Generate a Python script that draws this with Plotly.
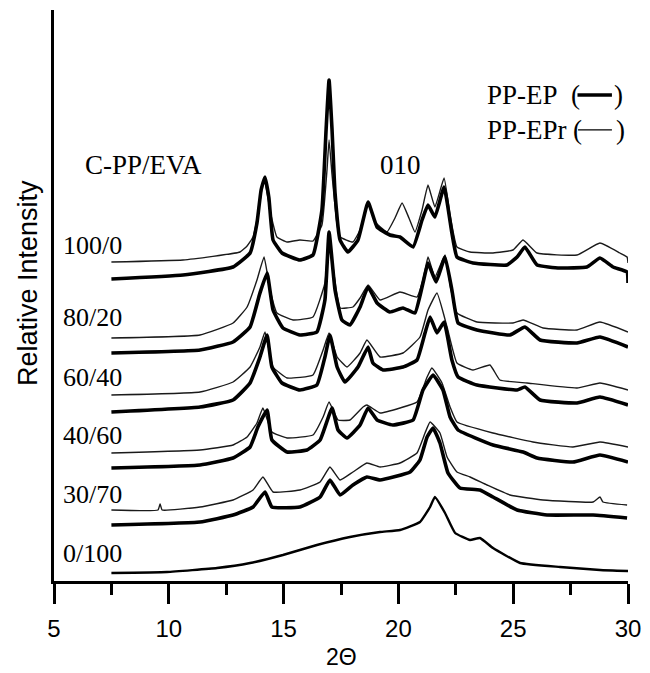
import plotly.graph_objects as go

# 2-theta positions and relative intensities (a.u., offset per sample)
x_100_0_r = [7.5, 10.62, 13.10, 13.41, 13.67, 13.88, 14.15, 14.45, 14.71, 15.15, 15.71, 16.28, 16.67, 16.89, 16.98,
             17.11, 17.33, 17.46, 18.02, 18.33, 18.68, 18.98, 19.50, 19.85, 20.16, 20.46, 20.72, 21.03, 21.29, 21.59,
             21.99, 22.25, 22.55, 23.12, 24.12, 24.99, 25.43, 26.04, 27.78, 28.78, 29.65, 29.96, 30.0]
y_100_0_r = [319, 321, 329, 335, 344, 366, 403, 366, 344, 339, 341, 340, 356, 411, 441,
             406, 356, 344, 339, 351, 378, 359, 349, 363, 378, 363, 349, 371, 396, 374,
             403, 366, 334, 329, 328, 331, 341, 328, 326, 338, 328, 324, 318]

x_100_0 = [7.5, 10.62, 12.80, 13.54, 13.84, 14.02, 14.19, 14.36, 14.54, 14.93, 15.71, 16.28, 16.67, 16.85, 16.98,
           17.11, 17.24, 17.46, 17.80, 18.24, 18.68, 19.07, 19.63, 20.07, 20.64, 21.03, 21.29, 21.59, 21.99, 22.33,
           22.55, 23.25, 24.73, 25.17, 25.51, 26.04, 27.04, 28.21, 28.78, 29.35, 29.96, 30.0]
y_100_0 = [302, 306, 314, 328, 358, 391, 404, 383, 341, 328, 321, 326, 371, 451, 501,
           451, 388, 341, 329, 341, 379, 354, 346, 344, 334, 361, 376, 364, 394, 348,
           324, 318, 316, 324, 334, 316, 313, 314, 323, 314, 309, 298]

x_80_20_r = [7.5, 11.36, 12.80, 13.41, 13.84, 14.15, 14.41, 14.71, 15.41, 16.28, 16.80, 16.98, 17.20, 17.46, 18.02,
             18.33, 18.68, 19.20, 20.07, 20.81, 21.07, 21.29, 21.59, 22.03, 22.29, 22.55, 23.42, 24.99, 25.43, 26.30,
             27.78, 28.78, 30.0]
y_80_20_r = [243, 246, 258, 274, 301, 324, 291, 268, 261, 264, 298, 346, 306, 273, 274,
             283, 296, 281, 289, 284, 301, 324, 304, 326, 291, 268, 259, 258, 261, 253,
             251, 259, 249]

x_80_20 = [7.5, 11.36, 12.80, 13.54, 13.97, 14.28, 14.54, 14.97, 15.71, 16.45, 16.80, 16.98, 17.24, 17.54, 17.89,
           18.33, 18.68, 19.07, 19.63, 20.20, 20.72, 21.07, 21.29, 21.64, 22.03, 22.33, 22.60, 23.42, 24.86, 25.51,
           26.17, 27.78, 28.78, 30.0]
y_80_20 = [228, 231, 239, 254, 288, 308, 271, 253, 246, 249, 281, 349, 291, 261, 256,
           274, 294, 278, 269, 273, 268, 298, 318, 299, 324, 291, 258, 251, 246, 254,
           241, 238, 244, 234]

x_60_40_r = [7.5, 11.36, 12.80, 13.54, 13.97, 14.19, 14.54, 15.15, 16.28, 16.72, 16.98, 17.33, 17.76, 18.33, 18.63,
             19.20, 20.20, 20.94, 21.29, 21.68, 22.12, 22.55, 23.25, 23.99, 24.42, 25.60, 27.78, 28.78, 30.0]
y_60_40_r = [186, 189, 199, 214, 234, 249, 214, 203, 206, 231, 248, 224, 214, 228, 241,
             224, 228, 244, 271, 288, 254, 218, 211, 216, 201, 198, 193, 198, 191]

x_60_40 = [7.5, 11.36, 12.80, 13.54, 13.97, 14.28, 14.49, 14.93, 15.71, 16.45, 16.80, 17.02, 17.33, 17.67, 18.24,
           18.68, 18.89, 19.33, 20.20, 20.81, 21.16, 21.38, 21.68, 21.99, 22.33, 22.60, 23.42, 25.17, 25.51, 26.17,
           27.78, 28.78, 30.0]
y_60_40 = [169, 174, 181, 198, 224, 246, 214, 198, 191, 196, 224, 246, 214, 199, 214,
           234, 218, 211, 214, 221, 248, 264, 248, 259, 221, 204, 196, 191, 194, 181,
           178, 184, 176]

x_40_60_r = [7.5, 11.36, 12.80, 13.41, 13.84, 14.10, 14.49, 15.15, 16.28, 16.72, 16.98, 17.37, 17.89, 18.46, 18.63,
             19.20, 20.07, 20.81, 21.25, 21.46, 21.90, 22.25, 22.55, 24.12, 25.86, 27.60, 28.78, 30.0]
y_40_60_r = [128, 131, 136, 144, 158, 173, 149, 143, 146, 164, 179, 161, 161, 174, 176,
             168, 173, 179, 204, 213, 198, 174, 159, 148, 139, 134, 139, 134]

x_40_60 = [7.5, 11.36, 12.80, 13.54, 13.88, 14.28, 14.49, 15.15, 16.02, 16.59, 17.11, 17.37, 17.76, 18.33, 18.68,
           19.07, 19.76, 20.64, 21.07, 21.51, 21.94, 22.25, 22.60, 24.12, 25.43, 26.04, 27.60, 28.78, 30.0]
y_40_60 = [113, 116, 123, 134, 154, 171, 141, 129, 131, 141, 173, 151, 143, 156, 173,
           161, 156, 161, 191, 206, 191, 164, 151, 136, 129, 123, 119, 126, 119]

x_30_70_r = [7.5, 9.53, 9.62, 9.71, 11.36, 12.80, 13.67, 14.10, 14.54, 15.71, 16.59, 17.02, 17.46, 18.02, 18.63,
             19.20, 20.07, 20.81, 21.16, 21.38, 21.81, 22.12, 22.55, 23.12, 23.86, 24.86, 26.30, 28.48, 28.78, 28.91,
             29.96]
y_30_70_r = [71, 71, 77, 71, 74, 81, 91, 104, 89, 91, 99, 114, 101, 109, 118,
             114, 118, 128, 148, 159, 148, 124, 109, 104, 96, 86, 81, 79, 84, 79,
             76]

x_30_70 = [7.5, 11.36, 12.80, 13.67, 14.19, 14.49, 15.71, 16.59, 17.02, 17.46, 18.02, 18.63, 19.20, 20.51, 20.94,
           21.25, 21.51, 21.81, 22.16, 22.68, 23.55, 24.12, 25.17, 26.47, 28.48, 29.96]
y_30_70 = [56, 59, 66, 74, 89, 74, 74, 84, 101, 86, 96, 104, 101, 109, 121,
           144, 153, 138, 108, 93, 91, 84, 71, 66, 66, 63]

x_0_100 = [7.5, 9.92, 12.10, 13.54, 14.97, 16.45, 17.89, 19.20, 20.07, 20.94, 21.38, 21.59, 22.03, 22.47, 23.12,
           23.55, 24.12, 25.30, 27.04, 28.78, 30.0]
y_0_100 = [8, 9, 13, 18, 26, 36, 44, 49, 51, 59, 74, 84, 68, 48, 41,
           43, 33, 18, 14, 11, 10]

ratios = ["100/0", "80/20", "60/40", "40/60", "30/70", "0/100"]
label_y = [0.587, 0.461, 0.357, 0.254, 0.151, 0.049]

thin = [(x_100_0_r, y_100_0_r), (x_80_20_r, y_80_20_r), (x_60_40_r, y_60_40_r),
        (x_40_60_r, y_40_60_r), (x_30_70_r, y_30_70_r)]
thick = [(x_100_0, y_100_0), (x_80_20, y_80_20), (x_60_40, y_60_40),
         (x_40_60, y_40_60), (x_30_70, y_30_70)]

fig = go.Figure()

for (xs, ys) in thin:
    fig.add_trace(go.Scatter(x=xs, y=ys, mode="lines",
                             line=dict(color="#1a1a1a", width=1.4, shape="spline", smoothing=0.35),
                             showlegend=False, hoverinfo="skip"))
for (xs, ys) in thick:
    fig.add_trace(go.Scatter(x=xs, y=ys, mode="lines",
                             line=dict(color="black", width=3.6, shape="spline", smoothing=0.35),
                             showlegend=False, hoverinfo="skip"))
fig.add_trace(go.Scatter(x=x_0_100, y=y_0_100, mode="lines",
                         line=dict(color="black", width=2.4, shape="spline", smoothing=0.35),
                         showlegend=False, hoverinfo="skip"))

serif = dict(family="Liberation Serif, Times New Roman, serif", size=26, color="black")
serif_big = dict(family="Liberation Serif, Times New Roman, serif", size=27, color="black")
sans = "Liberation Sans, Arial, sans-serif"

annotations = []
for name, yy in zip(ratios, label_y):
    annotations.append(dict(text=name, xref="paper", yref="paper", x=0.012, y=yy,
                            xanchor="left", yanchor="middle", showarrow=False, font=serif))
annotations += [
    dict(text="C-PP/EVA", xref="paper", yref="paper", x=0.050, y=0.729, xanchor="left",
         yanchor="middle", showarrow=False, font=serif_big),
    dict(text="010", xref="paper", yref="paper", x=0.564, y=0.729, xanchor="left",
         yanchor="middle", showarrow=False, font=serif_big),
    dict(text="PP-EP", xref="paper", yref="paper", x=0.751, y=0.851, xanchor="left",
         yanchor="middle", showarrow=False, font=serif_big),
    dict(text="PP-EPr", xref="paper", yref="paper", x=0.751, y=0.790, xanchor="left",
         yanchor="middle", showarrow=False, font=serif_big),
    dict(text="(", xref="paper", yref="paper", x=0.898, y=0.851, xanchor="left",
         yanchor="middle", showarrow=False, font=serif_big),
    dict(text="(", xref="paper", yref="paper", x=0.900, y=0.790, xanchor="left",
         yanchor="middle", showarrow=False, font=serif_big),
    dict(text=")", xref="paper", yref="paper", x=0.972, y=0.851, xanchor="left",
         yanchor="middle", showarrow=False, font=serif_big),
    dict(text=")", xref="paper", yref="paper", x=0.975, y=0.790, xanchor="left",
         yanchor="middle", showarrow=False, font=serif_big),
    dict(text="Relative Intensity", xref="paper", yref="paper", x=-0.045, y=0.522,
         xanchor="center", yanchor="middle", textangle=-90, showarrow=False,
         font=dict(family=sans, size=27, color="black")),
    dict(text="2Θ", xref="paper", yref="paper", x=0.5, y=-0.133, xanchor="center",
         yanchor="middle", showarrow=False, font=dict(family=sans, size=23, color="black")),
]

shapes = [
    dict(type="line", xref="paper", yref="paper", x0=0.912, x1=0.972, y0=0.851, y1=0.851,
         line=dict(color="black", width=3.5)),
    dict(type="line", xref="paper", yref="paper", x0=0.913, x1=0.972, y0=0.790, y1=0.790,
         line=dict(color="black", width=1.2)),
]

# page body has an 8px margin, so the figure is sized/offset to land on the reference pixels
fig.update_layout(
    width=642, height=665,
    margin=dict(l=46, r=22, t=2, b=92),
    plot_bgcolor="white", paper_bgcolor="white",
    annotations=annotations,
    shapes=shapes,
    xaxis=dict(range=[5, 30], showgrid=False, zeroline=False, showline=True, linecolor="black",
               linewidth=2.5, ticks="outside", ticklen=20, tickwidth=2.5, tickcolor="black",
               tick0=5, dtick=5, ticklabelstandoff=4,
               tickfont=dict(family=sans, size=24, color="black"),
               minor=dict(ticks="outside", ticklen=11, tickwidth=2.5, tickcolor="black",
                          tick0=5, dtick=2.5)),
    yaxis=dict(range=[0, 571], showgrid=False, zeroline=False, showline=True, linecolor="black",
               linewidth=2.5, showticklabels=False, ticks=""),
)

fig.write_html("out.html")
